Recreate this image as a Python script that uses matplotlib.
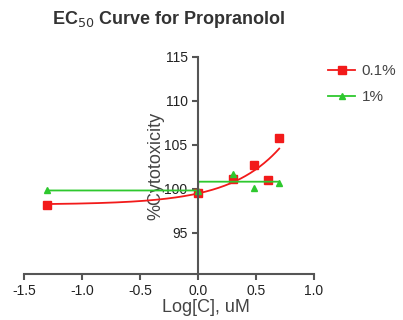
import numpy as np
import matplotlib
matplotlib.use("Agg")
import matplotlib.pyplot as plt

plt.rcParams['font.family'] = ['Liberation Sans', 'DejaVu Sans']

# 数据
x_red = [-1.3, 0.0, 0.3, 0.48, 0.6, 0.7]
y_red = [98.2, 99.5, 101.1, 102.7, 101.0, 105.8]
x_green = [-1.3, 0.0, 0.3, 0.48, 0.7]
y_green = [99.8, 99.7, 101.7, 100.1, 100.6]
# 绿色拟合近似为阶跃
green_bottom = 99.8
green_top = 100.8
green_step_x = 0.0

xticks = [-1.5, -1.0, -0.5, 0.0, 0.5, 1.0]
yticks = [95, 100, 105, 110, 115]

red = '#f21a1a'
green = '#2ec82e'

fig = plt.figure(figsize=(4.03, 3.2), dpi=100)
ax = fig.add_axes([0.0596, 0.144, 0.7196, 0.678])

# 红色曲线: y = B + A*10^x 拟合
A, B = np.polyfit(np.power(10.0, x_red), y_red, 1)
xc = np.linspace(min(x_red), max(x_red), 200)
ax.plot(xc, B + A * np.power(10.0, xc), color=red, lw=1.3)
ax.plot(x_red, y_red, 's', color=red, ms=6)

# 绿色曲线
xg = np.linspace(min(x_green), max(x_green), 400)
ax.plot(xg, np.where(xg < green_step_x, green_bottom, green_top), color=green, lw=1.3)
ax.plot(x_green, y_green, '^', color=green, ms=5)

ax.set_xlim(-1.5, 1.0)
ax.set_ylim(90.3, 115)
ax.set_xticks(xticks)
ax.set_xticklabels(['%.1f' % v for v in xticks])
ax.set_yticks(yticks)

ax.spines['top'].set_visible(False)
ax.spines['right'].set_visible(False)
ax.spines['left'].set_position(('data', 0))
for s in ['left', 'bottom']:
    ax.spines[s].set_color('#555555')
    ax.spines[s].set_linewidth(1.5)
ax.tick_params(colors='#555555', width=1.5, length=4, labelsize=10, labelcolor='#222222')

ax.set_xlabel('Log[C], uM', fontsize=13, color='#444444', labelpad=0)
ax.xaxis.set_label_coords((206 - 24) / 290.0, -0.115)
ax.set_ylabel('%Cytotoxicity', fontsize=13, color='#444444')
ax.yaxis.set_label_coords((164 - 24) / 290.0, 0.5)

ax.set_title('EC$_{50}$ Curve for Propranolol', fontsize=13, fontweight='bold', color='#333333', pad=24)

h1, = ax.plot([], [], 's-', color=red, ms=6, lw=1.3)
h2, = ax.plot([], [], '^-', color=green, ms=5, lw=1.3)
ax.legend([h1, h2], ['0.1%', '1%'], loc='upper left', bbox_to_anchor=(1.0, 1.03),
          frameon=False, fontsize=11, labelcolor='#444444', handlelength=1.8,
          handletextpad=0.4, labelspacing=0.8)

fig.savefig('out.png', dpi=100)
